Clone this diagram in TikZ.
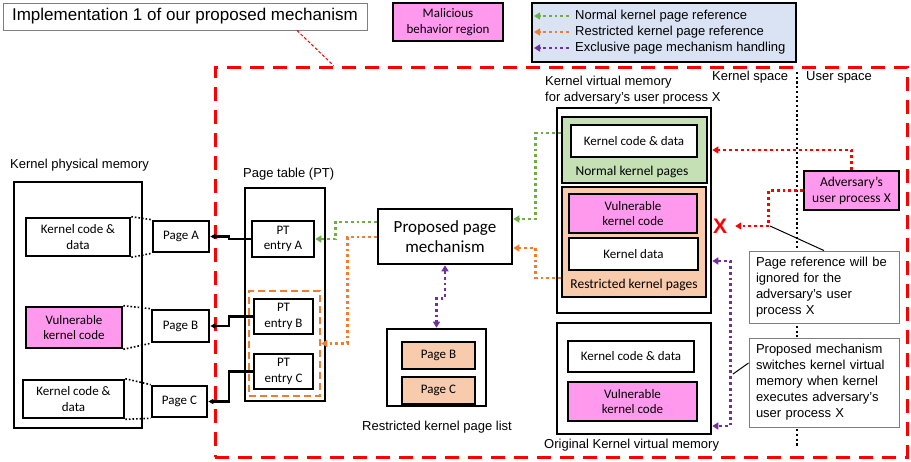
\documentclass[tikz,border=0pt]{standalone}
\usepackage{fontspec}
\setmainfont{Liberation Sans}
\newfontfamily\calfont{Carlito}
\usetikzlibrary{arrows.meta}
\definecolor{pinkfill}{RGB}{255,153,238}
\definecolor{greenfill}{RGB}{197,224,180}
\definecolor{orangefill}{RGB}{248,203,173}
\definecolor{legendfill}{RGB}{218,227,243}
\definecolor{gline}{RGB}{112,173,71}
\definecolor{oline}{RGB}{237,125,49}
\definecolor{pline}{RGB}{112,48,160}
\definecolor{callgray}{RGB}{127,127,127}
% box from corner (x1,y1) to corner (x2,y2): style, name, x1, y1, x2, y2, text
\newcommand\mkbox[7]{\node[#1, minimum width={#5-#3}, minimum height={#6-#4}] (#2) at ({(#3+#5)/2},{(#4+#6)/2}) {#7};}
\begin{document}
\begin{tikzpicture}[x=1pt,y=-1pt,
  bx/.style={draw, line width=2.6pt, inner sep=0pt, align=center,
    font=\calfont\fontsize{13}{15.5}\selectfont},
  pinkbx/.style={bx, fill=pinkfill},
  whitebx/.style={bx, fill=white},
  callout/.style={draw=callgray, line width=0.9pt, fill=white, inner xsep=7pt, inner ysep=0pt,
    align=left, text width=136pt, font=\fontsize{13}{16}\selectfont},
  lbl/.style={inner sep=0pt, font=\fontsize{13}{16}\selectfont},
  callbl/.style={inner sep=0pt, font=\calfont\fontsize{13.5}{16}\selectfont},
  framebx/.style={draw=red, line width=3pt, dash pattern=on 14pt off 9pt, inner sep=0pt},
  dotline/.style={line width=2.8pt, dash pattern=on 2.8pt off 3pt},
  tip/.style={-{Triangle[length=6pt,width=7pt]}},
  tips/.style={{Triangle[length=6pt,width=7pt]}-{Triangle[length=6pt,width=7pt]}},
  gdot/.style={dotline, draw=gline},
  odot/.style={dotline, draw=oline},
  pdot/.style={dotline, draw=pline},
  rdot/.style={dotline, draw=red},
  blk/.style={line width=2.2pt, -{Triangle[length=5pt,width=5pt]}},
  kdot/.style={line width=1.6pt, dash pattern=on 1.6pt off 2pt},
  divider/.style={line width=2.2pt, dash pattern=on 2.2pt off 2.5pt},
]
\useasboundingbox (0,0) rectangle (911,461);

% red frame around the implementation
\mkbox{framebx}{frame}{215}{67}{907}{457}{}

% title, legend
\mkbox{draw=callgray, line width=0.9pt, inner sep=0pt, font=\fontsize{17}{20}\selectfont}{title}{3}{3}{367}{30}{Implementation 1 of our proposed mechanism}
\draw[red, line width=1pt, dash pattern=on 3pt off 2pt] ([xshift=112pt]title.south) -- ([xshift=120pt]frame.north west);
\mkbox{pinkbx}{mal}{393}{3}{503}{41}{Malicious\\behavior region}
\mkbox{bx, fill=legendfill}{legend}{532}{3}{796}{62}{}
\node[lbl, anchor=west] (lg1) at (575,16) {Normal kernel page reference};
\node[lbl, anchor=west] (lg2) at (575,32) {Restricted kernel page reference};
\node[lbl, anchor=west] (lg3) at (575,48) {Exclusive page mechanism handling};
\draw[gdot, tip] ([xshift=-6pt]lg1.west) -- ++(-35,0);
\draw[odot, tip] ([xshift=-6pt]lg2.west) -- ++(-35,0);
\draw[pdot, tip] ([xshift=-6pt]lg3.west) -- ++(-35,0);

% kernel physical memory
\node[lbl, anchor=west] (kpmlbl) at (10,165) {Kernel physical memory};
\mkbox{bx}{kpm}{14}{182}{142}{428}{}
\mkbox{whitebx}{kcdA}{26}{218}{130}{256}{Kernel code \&\\data}
\mkbox{pinkbx}{vkcB}{26}{307}{122}{348}{Vulnerable\\kernel code}
\mkbox{whitebx}{kcdC}{23}{380}{124}{418}{Kernel code \&\\data}
\mkbox{whitebx}{pageA}{153}{221}{209}{252}{Page A}
\mkbox{whitebx}{pageB}{152}{310}{209}{342}{Page B}
\mkbox{whitebx}{pageC}{152}{386}{207}{417}{Page C}
\draw[kdot] (kcdA.north east) -- (pageA.north west);
\draw[kdot] (kcdA.south east) -- (pageA.south west);
\draw[kdot] (vkcB.north east) -- (pageB.north west);
\draw[kdot] (vkcB.south east) -- (pageB.south west);
\draw[kdot] (kcdC.north east) -- (pageC.north west);
\draw[kdot] (kcdC.south east) -- (pageC.south west);

% page table
\node[lbl, anchor=west] (ptlbl) at (243,174) {Page table (PT)};
\mkbox{bx}{pt}{245}{188}{325}{401}{}
\mkbox{whitebx}{pteA}{252}{221}{314}{257}{PT\\entry A}
\mkbox{draw=oline, line width=2.5pt, dash pattern=on 7pt off 4pt, inner sep=0pt}{ptdash}{249}{291}{320}{396}{}
\mkbox{whitebx}{pteB}{254}{299}{313}{334}{PT\\entry B}
\mkbox{whitebx}{pteC}{254}{354}{313}{389}{PT\\entry C}
\draw[blk] (pteA.west) -- ++(-22,0) |- (pageA.east);
\draw[blk] (pteB.west) -- ++(-24,0) |- (pageB.east);
\draw[blk] (pteC.west) -- ++(-24,0) |- (pageC.east);

% proposed page mechanism and restricted page list
\mkbox{bx, font=\calfont\fontsize{17}{20}\selectfont}{ppm}{378}{209}{512}{264}{Proposed page\\mechanism}
\mkbox{bx}{rkpl}{387}{329}{486}{406}{}
\mkbox{bx, fill=orangefill}{rpB}{402}{342}{475}{369}{Page B}
\mkbox{bx, fill=orangefill}{rpC}{402}{377}{475}{404}{Page C}
\node[lbl] (rkpllbl) at (437,427) {Restricted kernel page list};

% kernel virtual memory for process X
\node[lbl, anchor=west, align=left] (kvmlbl) at (545,90) {Kernel virtual memory\\for adversary's user process X};
\mkbox{bx}{kvm}{557}{108}{711}{313}{}
\mkbox{bx, fill=greenfill}{green}{562}{117}{707}{183}{}
\mkbox{whitebx}{kcd1}{571}{125}{697}{157}{Kernel code \& data}
\node[callbl] (nkp) at (632,172) {Normal kernel pages};
\mkbox{bx, fill=orangefill}{orange}{562}{187}{706}{297}{}
\mkbox{pinkbx}{vkc1}{569}{194}{697}{233}{Vulnerable\\kernel code}
\mkbox{whitebx}{kdata}{569}{238}{698}{270}{Kernel data}
\node[callbl] (rkp) at (634,285) {Restricted kernel pages};

% original kernel virtual memory
\mkbox{bx}{okvm}{557}{323}{711}{434}{}
\mkbox{whitebx}{kcd2}{568}{341}{694}{372}{Kernel code \& data}
\mkbox{pinkbx}{vkc2}{568}{382}{697}{421}{Vulnerable\\kernel code}
\node[lbl, anchor=west] (okvmlbl) at (544,445) {Original Kernel virtual memory};

% kernel / user space
\node[lbl, anchor=west] (kslbl) at (712,77) {Kernel space};
\node[lbl, anchor=west] (uslbl) at (806,77) {User space};
\coordinate (divtop) at (797,72);
\coordinate (divbot) at (797,447);
\draw[divider] (divtop) -- (divbot);
\mkbox{pinkbx, font=\calfont\fontsize{13.5}{16}\selectfont}{adv}{804}{171}{899}{210}{Adversary’s\\user process X}

% dotted references
\draw[gdot, tip] ([yshift=17pt]green.west) -- ++(-25,0) |- ([yshift=17.5pt]ppm.east);
\draw[gdot, tip] ([yshift=14.5pt]ppm.west) -- ++(-41,0) |- (pteA.east);
\draw[odot, tip] ([yshift=-36pt]orange.west) -- ++(-25,0) |- ([yshift=-11.5pt]ppm.east);
\draw[odot, tip] ([yshift=-0.5pt]ppm.west) -- ++(-29,0) |- (ptdash.east);
\draw[pdot, tips] (ppm.south) -- ++(0,33) -| (rkpl.north);
\draw[pdot, tips] ([yshift=-50.5pt]kvm.east) -- ++(18,0) |- ([yshift=-47.5pt]okvm.east);
\node[inner xsep=8pt, inner ysep=0pt, text=red, font=\bfseries\fontsize{21}{21}\selectfont] (xm) at (720,226) {X};
\draw[rdot, tip] (adv.north) |- ([yshift=60.5pt]kvm.east);
\draw[rdot, tip] (adv.west) -- ++(-34,0) |- (xm.east);

% callouts
\mkbox{callout}{call1}{749}{251}{899}{323}{Page reference will be\\ignored for the\\adversary’s user\\process X}
\mkbox{callout}{call2}{749}{338}{899}{427}{Proposed mechanism\\switches kernel virtual\\memory when kernel\\executes adversary’s\\user process X}
\coordinate (rbend) at (770,226);
\coordinate (ptouch) at (733,374);
\draw[line width=1pt] (call1.north) -- (rbend);
\draw[line width=1pt] ([yshift=19.5pt]call2.west) -- (ptouch);
\end{tikzpicture}
\end{document}
